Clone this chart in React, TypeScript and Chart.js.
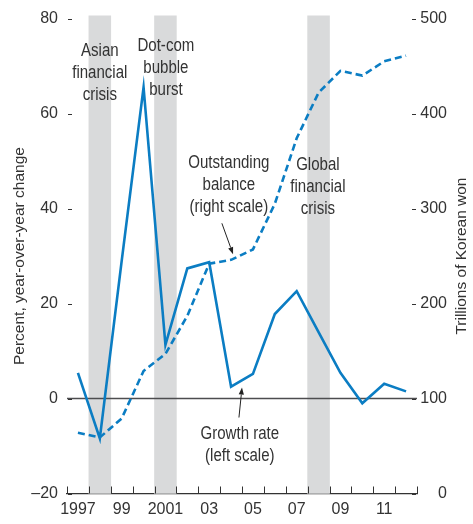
import React, { useEffect, useRef } from 'react';
import { Chart, registerables } from 'chart.js';

Chart.register(...registerables);

// ---- data ----
const years = ['1997', '1998', '1999', '2000', '2001', '2002', '2003', '2004', '2005', '2006', '2007', '2008', '2009', '2010', '2011', '2012'];
const xTickLabels = ['1997', '', '99', '', '2001', '', '03', '', '05', '', '07', '', '09', '', '11', ''];
const growthRate = [5.4, -8.4, 29, 65.5, 11.3, 27.4, 28.7, 2.5, 5.2, 17.8, 22.6, 14.0, 5.4, -1.0, 3.1, 1.5];
const outstandingBalance = [64, 59, 79, 129, 147, 187, 242, 246, 257, 305, 374, 422, 445, 440, 455, 461];
const crisisYears = ['1998', '2001', '2008'];
const leftTickValues = [-20, 0, 20, 40, 60, 80];
const rightTickValues = [0, 100, 200, 300, 400, 500];

const leftTitle = 'Percent, year-over-year change';
const rightTitle = 'Trillions of Korean won';

// ---- styles ----
const FONT = "'Liberation Sans', Arial, sans-serif";
const TEXT = '#333333';
const BLUE = '#0b7dc3';
const SHADE = '#d9dadb';
const FS = 16;
const TITLE_FS = 15.5;
const NOTE_FS = 17.5;
const CONDENSE = 0.86;

// annotation placement (category index, left-axis value)
const notes = [
  { lines: ['Asian', 'financial', 'crisis'], x: 1.0, y: 73.1 },
  { lines: ['Dot-com', 'bubble', 'burst'], x: 4.02, y: 74.1 },
  { lines: ['Outstanding', 'balance', '(right scale)'], x: 6.9, y: 49.6 },
  { lines: ['Global', 'financial', 'crisis'], x: 10.97, y: 49.2 },
  { lines: ['Growth rate', '(left scale)'], x: 7.4, y: -7.5 },
];
const arrows = [
  { x1: 6.58, y1: 36.9, x2: 7.09, y2: 30.4 },
  { x1: 7.36, y1: -4.0, x2: 7.5, y2: 2.3 },
];

const deco = {
  id: 'deco',
  afterDatasetDraw(chart: any, args: any) {
    if (args.index !== 0) return;
    const { ctx, chartArea: a, scales } = chart;
    const y0 = scales.y.getPixelForValue(0);
    ctx.save();
    ctx.strokeStyle = '#4d4d4f';
    ctx.lineWidth = 1.3;
    ctx.beginPath();
    ctx.moveTo(a.left, y0);
    ctx.lineTo(a.right, y0);
    ctx.stroke();
    ctx.restore();
  },
  afterDraw(chart: any) {
    const { ctx, chartArea: a, scales } = chart;
    const xs = scales.x;
    const ys = scales.y;
    const y1s = scales.y1;
    ctx.save();
    ctx.strokeStyle = TEXT;
    ctx.lineWidth = 1;
    // y tick dashes
    ctx.beginPath();
    leftTickValues.forEach((v) => {
      const py = Math.round(ys.getPixelForValue(v)) + 0.5;
      ctx.moveTo(a.left + 1, py);
      ctx.lineTo(a.left + 5, py);
    });
    rightTickValues.forEach((v) => {
      const py = Math.round(y1s.getPixelForValue(v)) + 0.5;
      ctx.moveTo(a.right - 5, py);
      ctx.lineTo(a.right - 1, py);
    });
    // x tick marks at year boundaries
    for (let i = 0; i <= years.length; i++) {
      const px = Math.round(xs.getPixelForValue(i - 0.5)) + 0.5;
      ctx.moveTo(px, a.bottom);
      ctx.lineTo(px, a.bottom - 7);
    }
    ctx.stroke();

    // annotations
    ctx.fillStyle = TEXT;
    ctx.font = `${NOTE_FS}px ${FONT}`;
    ctx.textAlign = 'center';
    ctx.textBaseline = 'middle';
    notes.forEach((n) => {
      const px = xs.getPixelForValue(n.x);
      const py = ys.getPixelForValue(n.y);
      n.lines.forEach((l, i) => {
        ctx.save();
        ctx.translate(px, py + i * 22);
        ctx.scale(CONDENSE, 1);
        ctx.fillText(l, 0, 0);
        ctx.restore();
      });
    });

    // arrows
    ctx.strokeStyle = '#222';
    ctx.fillStyle = '#222';
    ctx.lineWidth = 1;
    arrows.forEach((ar) => {
      const x1 = xs.getPixelForValue(ar.x1);
      const y1 = ys.getPixelForValue(ar.y1);
      const x2 = xs.getPixelForValue(ar.x2);
      const y2 = ys.getPixelForValue(ar.y2);
      const ang = Math.atan2(y2 - y1, x2 - x1);
      const hl = 7;
      const hw = 2.6;
      const bx = x2 - hl * Math.cos(ang);
      const by = y2 - hl * Math.sin(ang);
      ctx.beginPath();
      ctx.moveTo(x1, y1);
      ctx.lineTo(bx, by);
      ctx.stroke();
      ctx.beginPath();
      ctx.moveTo(x2, y2);
      ctx.lineTo(bx + hw * Math.sin(ang), by - hw * Math.cos(ang));
      ctx.lineTo(bx - hw * Math.sin(ang), by + hw * Math.cos(ang));
      ctx.closePath();
      ctx.fill();
    });

    // right axis title
    ctx.fillStyle = TEXT;
    ctx.font = `${TITLE_FS}px ${FONT}`;
    ctx.translate(462, (a.top + a.bottom) / 2);
    ctx.rotate(-Math.PI / 2);
    ctx.textAlign = 'center';
    ctx.textBaseline = 'middle';
    ctx.fillText(rightTitle, 0, 0);
    ctx.restore();
  },
};

export default function App() {
  const ref = useRef<HTMLCanvasElement | null>(null);

  useEffect(() => {
    if (!ref.current) return;
    Chart.defaults.font.family = FONT;
    Chart.defaults.font.size = FS;
    Chart.defaults.color = TEXT;

    const chart = new Chart(ref.current, {
      type: 'line',
      data: {
        labels: years,
        datasets: [
          {
            type: 'bar',
            label: 'crisis',
            data: years.map((y) => (crisisYears.includes(y) ? [-20, 80.6] : null)) as any,
            backgroundColor: SHADE,
            borderWidth: 0,
            barPercentage: 1,
            categoryPercentage: 1,
            yAxisID: 'y',
            order: 3,
            clip: false as any,
          } as any,
          {
            type: 'line',
            label: 'Growth rate (left scale)',
            data: growthRate,
            borderColor: BLUE,
            borderWidth: 2.6,
            pointRadius: 0,
            tension: 0,
            yAxisID: 'y',
            order: 1,
          },
          {
            type: 'line',
            label: 'Outstanding balance (right scale)',
            data: outstandingBalance,
            borderColor: BLUE,
            borderWidth: 2.6,
            borderDash: [7, 4],
            pointRadius: 0,
            tension: 0,
            yAxisID: 'y1',
            order: 2,
          },
        ],
      },
      options: {
        animation: false,
        responsive: false,
        maintainAspectRatio: false,
        layout: { padding: { top: 16, left: 0, right: 26, bottom: 0 } },
        plugins: { legend: { display: false }, tooltip: { enabled: false } },
        scales: {
          x: {
            type: 'category',
            offset: true,
            grid: { display: false, offset: true, drawTicks: false },
            border: { display: true, color: TEXT, width: 1.2 },
            ticks: {
              autoSkip: false,
              maxRotation: 0,
              padding: 6,
              color: TEXT,
              font: { size: FS, family: FONT },
              callback: (_v: any, i: number) => xTickLabels[i],
            },
            afterFit: (s: any) => {
              s.height = 30.5;
            },
          },
          y: {
            type: 'linear',
            position: 'left',
            min: -20,
            max: 80,
            grid: { display: false, drawTicks: false },
            border: { display: false },
            ticks: {
              stepSize: 20,
              padding: 9,
              color: TEXT,
              font: { size: FS, family: FONT },
              callback: (v: any) => (v < 0 ? '\u2013' + Math.abs(v) : String(v)),
            },
            title: {
              display: true,
              text: leftTitle,
              color: TEXT,
              font: { size: TITLE_FS, family: FONT },
              padding: { top: 10, bottom: 0 },
            },
            afterFit: (s: any) => {
              s.width = 67;
            },
          },
          y1: {
            type: 'linear',
            position: 'right',
            min: 0,
            max: 500,
            grid: { display: false, drawTicks: false },
            border: { display: false },
            ticks: {
              stepSize: 100,
              padding: 3,
              crossAlign: 'far',
              color: TEXT,
              font: { size: FS, family: FONT },
            },
            afterFit: (s: any) => {
              s.width = 30;
            },
          },
        },
      },
      plugins: [deco],
    });
    return () => chart.destroy();
  }, []);

  return (
    <div style={{ position: 'fixed', left: 0, top: 0, width: 473, height: 524, background: '#fff' }}>
      <canvas ref={ref} width={473} height={524} style={{ width: 473, height: 524 }} />
    </div>
  );
}
